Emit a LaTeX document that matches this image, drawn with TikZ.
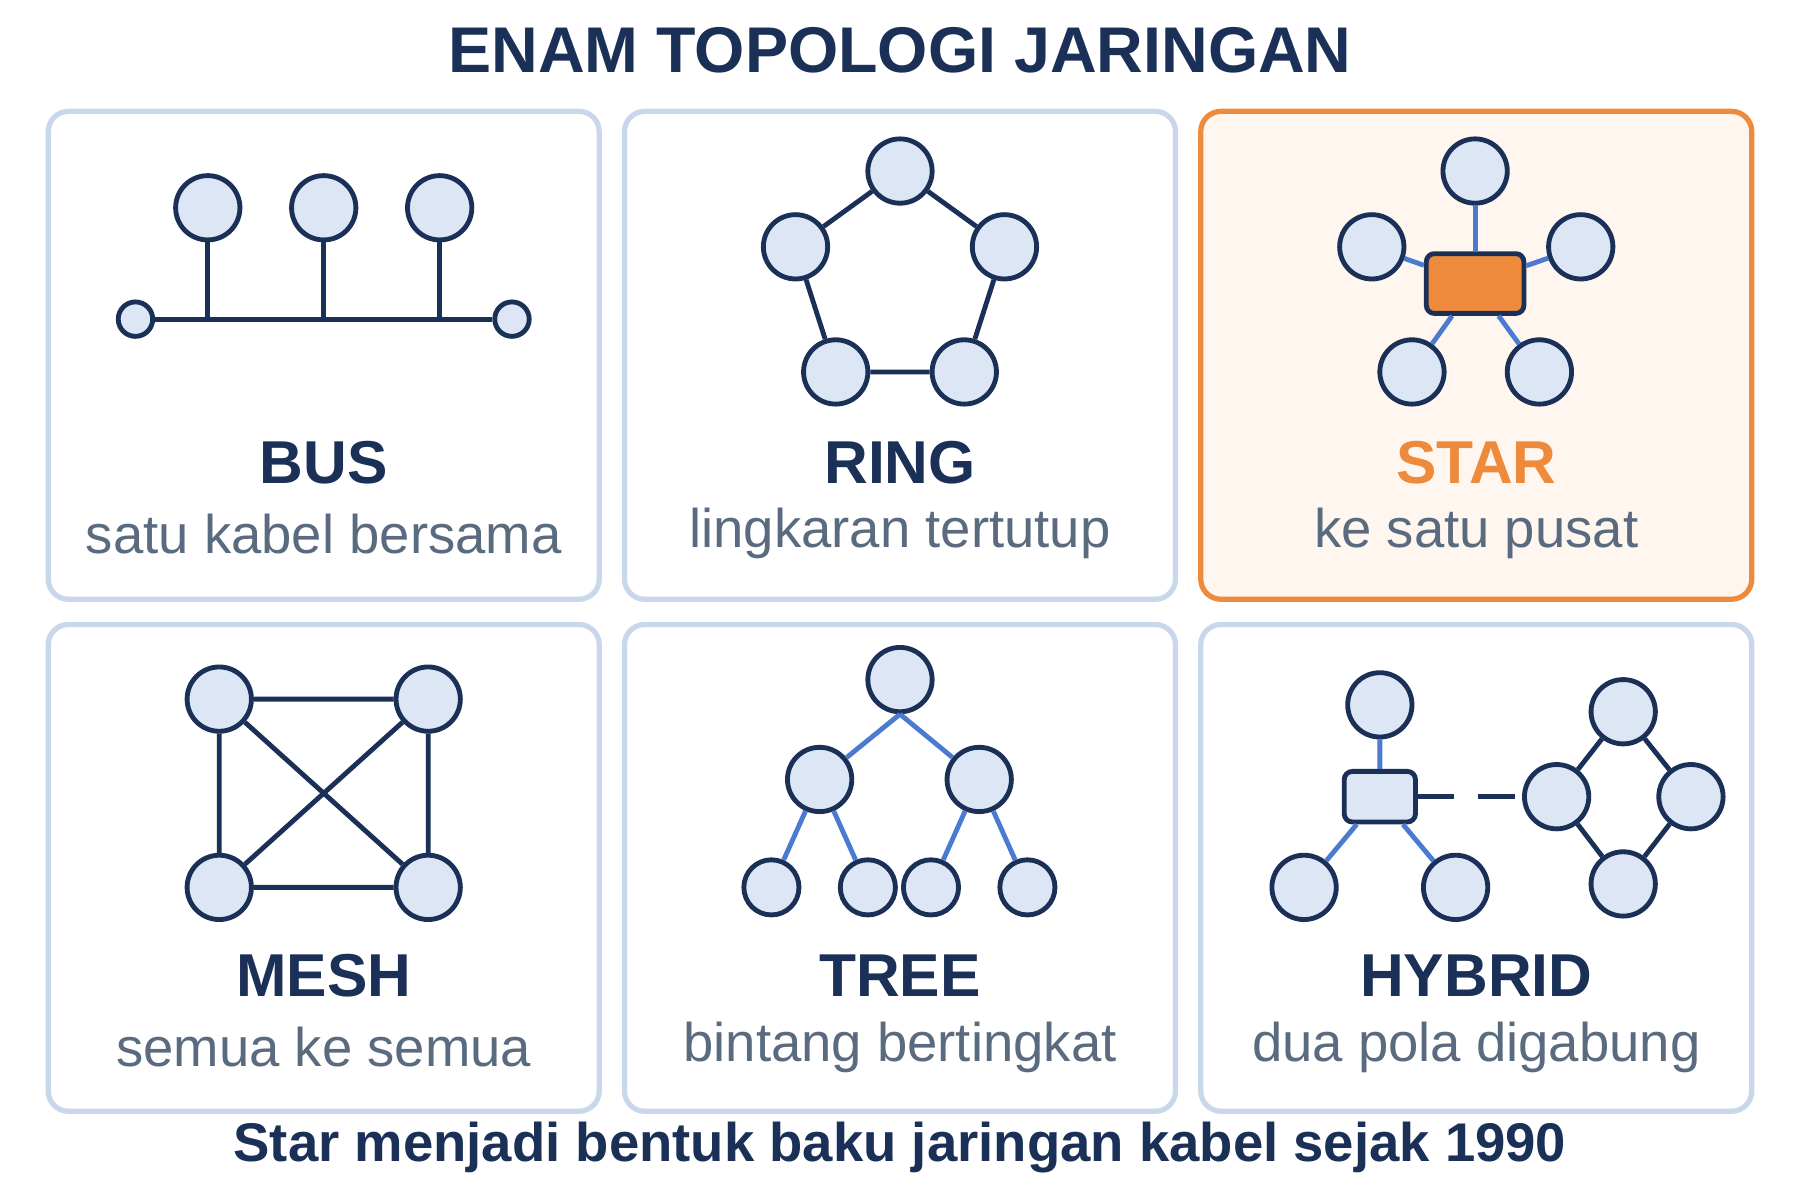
\documentclass[tikz,border=0pt]{standalone}
\usepackage{fontspec}
\setmainfont{Liberation Sans}
\usetikzlibrary{positioning}
\definecolor{navy}{HTML}{1B3057}
\definecolor{nodefill}{HTML}{DCE6F5}
\definecolor{panelline}{HTML}{C9D7EB}
\definecolor{linkblue}{HTML}{4A7BD0}
\definecolor{accent}{HTML}{EE8A3C}
\definecolor{subgray}{HTML}{5A6B80}
\tikzset{
  panel/.style={draw=panelline, line width=1.3pt, rounded corners=5pt, fill=white},
  host/.style={circle, draw=navy, fill=nodefill, line width=1.2pt, minimum size=0.56cm, inner sep=0pt},
  small host/.style={host, minimum size=0.48cm},
  term/.style={host, minimum size=0.3cm},
  hub/.style={draw=navy, line width=1.2pt, rounded corners=2pt, minimum width=0.85cm, minimum height=0.52cm},
  link/.style={navy, line width=1.2pt},
  blue link/.style={linkblue, line width=1.2pt},
  topo name/.style={font=\fontsize{15}{17}\selectfont\bfseries, text=navy},
  topo info/.style={font=\fontsize{13.5}{16}\selectfont, text=subgray},
}
\begin{document}
\begin{tikzpicture}[x=0.01cm, y=-0.01cm]
\useasboundingbox (0,0) rectangle (1568,1045);
% title and footer
\node[font=\fontsize{16}{19}\selectfont\bfseries, text=navy] (title) at (784,44) {ENAM TOPOLOGI JARINGAN};
\node[font=\fontsize{13.5}{16}\selectfont\bfseries, text=navy] (footer) at (784,1000) {Star menjadi bentuk baku jaringan kabel sejak 1990};
% panels
\draw[panel] (42,97) rectangle (522,522);
\draw[panel] (544,97) rectangle (1024,522);
\draw[panel, draw=accent, fill=accent!8] (1046,97) rectangle (1526,522);
\draw[panel] (42,544) rectangle (522,968);
\draw[panel] (544,544) rectangle (1024,968);
\draw[panel] (1046,544) rectangle (1526,968);
% labels
\foreach \x/\y/\n/\t in {282/403/BUS/satu kabel bersama, 784/403/RING/lingkaran tertutup,
  282/850/MESH/semua ke semua, 784/850/TREE/bintang bertingkat, 1286/850/HYBRID/dua pola digabung}{
  \node[topo name] at (\x,\y) {\n};
  \node[topo info] at (\x,\y+62) {\t};
}
\node[topo name, text=accent] (starname) at (1286,403) {STAR};
\node[topo info] (starinfo) at (1286,465) {ke satu pusat};
% bus
\node[term] (b0) at (118,278) {};
\node[term] (b4) at (446,278) {};
\draw[link] (b0) -- (b4);
\foreach \i/\x in {1/181,2/282,3/383}{
  \draw[link] (\x,181) -- (\x,278);
  \node[host] (b\i) at (\x,181) {};
}
% ring
\node[host] (r1) at (784,149) {};
\node[host] (r2) at (875,215) {};
\node[host] (r3) at (840,324) {};
\node[host] (r4) at (728,324) {};
\node[host] (r5) at (693,215) {};
\draw[link] (r1) -- (r2) -- (r3) -- (r4) -- (r5) -- (r1);
% star
\node[hub, fill=accent] (sc) at (1285,247) {};
\foreach \i/\x/\y in {1/1285/149, 2/1377/215, 3/1341/324, 4/1230/324, 5/1195/215}{
  \node[host] (s\i) at (\x,\y) {};
  \draw[blue link] (s\i) -- (sc);
}
% mesh
\node[host] (m1) at (191,609) {};
\node[host] (m2) at (373,609) {};
\node[host] (m3) at (373,773) {};
\node[host] (m4) at (191,773) {};
\draw[link] (m1) -- (m2) -- (m3) -- (m4) -- (m1) (m1) -- (m3) (m2) -- (m4);
% tree
\node[host] (t0) at (784,592) {};
\node[host] (t1) at (714,679) {};
\node[host] (t2) at (853,679) {};
\node[small host] (t11) at (672,773) {};
\node[small host] (t12) at (756,773) {};
\node[small host] (t21) at (811,773) {};
\node[small host] (t22) at (895,773) {};
\draw[blue link] (t0.south) -- (t1) (t0.south) -- (t2)
  (t1) -- (t11) (t1) -- (t12) (t2) -- (t21) (t2) -- (t22);
% hybrid
\node[hub, fill=nodefill, minimum width=0.62cm, minimum height=0.44cm] (hc) at (1202,694) {};
\node[host] (h1) at (1202,614) {};
\node[host] (h2) at (1136,773) {};
\node[host] (h3) at (1268,773) {};
\draw[blue link] (h1) -- (hc) (hc) -- (h2) (hc) -- (h3);
\node[host] (d1) at (1414,620) {};
\node[host] (d2) at (1473,694) {};
\node[host] (d3) at (1414,770) {};
\node[host] (d4) at (1356,694) {};
\draw[link] (d1) -- (d2) -- (d3) -- (d4) -- (d1);
\draw[link, dash pattern=on 9pt off 6pt] (hc) -- (d4);
\end{tikzpicture}
\end{document}
